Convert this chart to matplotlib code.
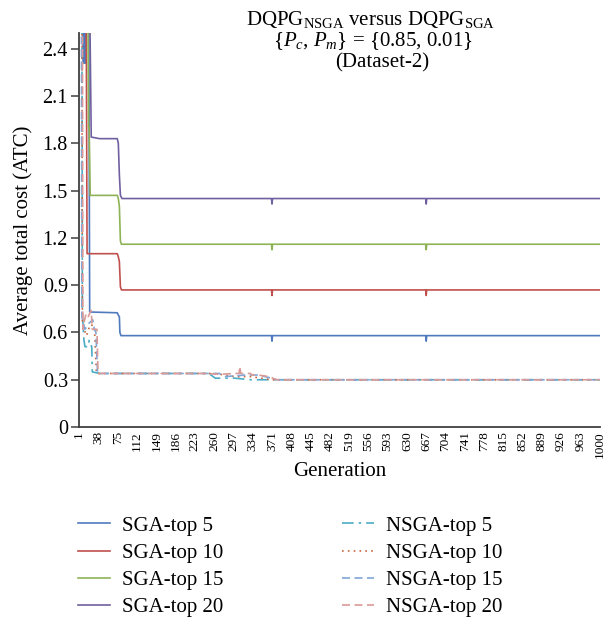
import numpy as np
import matplotlib
matplotlib.use("Agg")
import matplotlib.pyplot as plt

plt.rcParams["font.family"] = ["Liberation Serif", "DejaVu Serif"]
plt.rcParams["mathtext.fontset"] = "custom"
plt.rcParams["mathtext.rm"] = "Liberation Serif"
plt.rcParams["mathtext.it"] = "Liberation Serif:italic"

# (generation, ATC) points; values above 2.5 run off the top
sga5_gen = [1, 8, 9, 10, 11, 12, 13, 14, 19, 21, 74, 76, 78, 79, 81, 370, 371, 372, 666, 667, 668, 1000]
sga5_val = [3.0, 3.0, 2.31, 2.9, 2.31, 2.9, 2.31, 2.9, 2.9, 0.73, 0.725, 0.71, 0.70, 0.60, 0.58,
            0.58, 0.545, 0.58, 0.58, 0.545, 0.58, 0.58]
sga10_gen = [1, 14, 16, 74, 76, 78, 80, 82, 370, 371, 372, 666, 667, 668, 1000]
sga10_val = [3.0, 3.0, 1.10, 1.10, 1.08, 1.05, 0.89, 0.87, 0.87, 0.835, 0.87, 0.87, 0.835, 0.87, 0.87]
sga15_gen = [1, 17, 19, 20, 22, 74, 76, 78, 80, 82, 370, 371, 372, 666, 667, 668, 1000]
sga15_val = [3.0, 3.0, 1.90, 1.90, 1.47, 1.47, 1.45, 1.40, 1.18, 1.16, 1.16, 1.125, 1.16,
             1.16, 1.125, 1.16, 1.16]
sga20_gen = [1, 20, 24, 40, 74, 76, 78, 80, 83, 370, 371, 372, 666, 667, 668, 1000]
sga20_val = [3.0, 3.0, 1.84, 1.83, 1.83, 1.80, 1.60, 1.47, 1.45, 1.45, 1.415, 1.45, 1.45,
             1.415, 1.45, 1.45]

nsga5_gen = [1, 6, 7, 10, 12, 18, 20, 23, 25, 26, 40, 250, 262, 300, 330, 1000]
nsga5_val = [3.0, 3.0, 0.72, 0.55, 0.51, 0.51, 0.55, 0.52, 0.51, 0.35, 0.34, 0.34, 0.31,
             0.31, 0.30, 0.30]
nsga10_gen = [1, 6, 7, 15, 22, 30, 34, 260, 300, 330, 370, 1000]
nsga10_val = [3.0, 3.0, 0.65, 0.58, 0.65, 0.64, 0.34, 0.34, 0.32, 0.32, 0.30, 0.30]
nsga15_gen = [1, 5, 6, 12, 20, 27, 30, 33, 36, 37, 270, 280, 320, 345, 370, 380, 1000]
nsga15_val = [3.0, 3.0, 0.70, 0.62, 0.66, 0.68, 0.62, 0.60, 0.35, 0.34, 0.34, 0.32, 0.33,
              0.33, 0.31, 0.30, 0.30]
nsga20_gen = [1, 7, 8, 10, 14, 18, 24, 26, 35, 37, 240, 270, 300, 308, 309, 311, 330, 332,
              345, 365, 380, 1000]
nsga20_val = [3.0, 3.0, 0.62, 0.66, 0.72, 0.70, 0.74, 0.62, 0.62, 0.34, 0.34, 0.335, 0.34,
              0.34, 0.385, 0.34, 0.34, 0.33, 0.33, 0.32, 0.30, 0.30]

xtick_gens = list(range(1, 1000, 37)) + [1000]
ytick_vals = [0, 0.3, 0.6, 0.9, 1.2, 1.5, 1.8, 2.1, 2.4]
ytick_text = ["0", "0.3", "0.6", "0.9", "1.2", "1.5", "1.8", "2.1", "2.4"]

series = [
    ("SGA-top 5", sga5_gen, sga5_val, "#4F7BBE", "-"),
    ("SGA-top 10", sga10_gen, sga10_val, "#C0504D", "-"),
    ("SGA-top 15", sga15_gen, sga15_val, "#8DB356", "-"),
    ("SGA-top 20", sga20_gen, sga20_val, "#7160A0", "-"),
    ("NSGA-top 5", nsga5_gen, nsga5_val, "#4BACC6", (0, (7, 3, 1.5, 3))),
    ("NSGA-top 10", nsga10_gen, nsga10_val, "#C8663E", (0, (1, 2.5))),
    ("NSGA-top 15", nsga15_gen, nsga15_val, "#7FA6D8", (0, (4.8, 2.7))),
    ("NSGA-top 20", nsga20_gen, nsga20_val, "#DA9A98", (0, (4.8, 2.7))),
]

fig = plt.figure(figsize=(6.1, 6.18), dpi=100)
ax = fig.add_axes([0.1295, 0.309, 0.854, 0.6375])

lines = []
for name, g, v, col, ls in series:
    ln, = ax.plot(g, v, color=col, linestyle=ls, linewidth=1.2, label=name)
    lines.append(ln)

ax.set_xlim(0.5, 1000.5)
ax.set_ylim(0, 2.5)
ax.set_xticks(xtick_gens)
ax.set_xticklabels([str(t) for t in xtick_gens], rotation=90, fontsize=9.5)
ax.set_yticks(ytick_vals)
ax.set_yticklabels(ytick_text, fontsize=14.5)
ax.tick_params(axis="x", length=0, pad=3)
ax.tick_params(axis="y", length=6, width=1.1, color="#404040", pad=2)
for s in ["top", "right"]:
    ax.spines[s].set_visible(False)
for s in ["left", "bottom"]:
    ax.spines[s].set_color("#404040")
    ax.spines[s].set_linewidth(1.3)

ax.set_ylabel("Average total cost (ATC)", fontsize=15, labelpad=7)
ax.set_xlabel("Generation", fontsize=15, labelpad=3)

fig.text(0.607, 0.969, r"DQPG$_{\mathrm{NSGA}}$ versus DQPG$_{\mathrm{SGA}}$",
         ha="center", va="center", fontsize=15)
fig.text(0.612, 0.934, r"$\{P_c$, $P_m\}$ = {0.85, 0.01}",
         ha="center", va="center", fontsize=15)
fig.text(0.627, 0.899, "(Dataset-2)", ha="center", va="center", fontsize=15)

leg_kw = dict(loc="upper left", frameon=False, fontsize=15, handlelength=1.55,
              labelspacing=0.37, handletextpad=0.55, borderpad=0, borderaxespad=0)
fig.legend(handles=lines[:4], bbox_to_anchor=(78 / 610, 0.165), **leg_kw)
fig.legend(handles=lines[4:], bbox_to_anchor=(342 / 610, 0.165), **leg_kw)

fig.savefig("out.png", dpi=100)
